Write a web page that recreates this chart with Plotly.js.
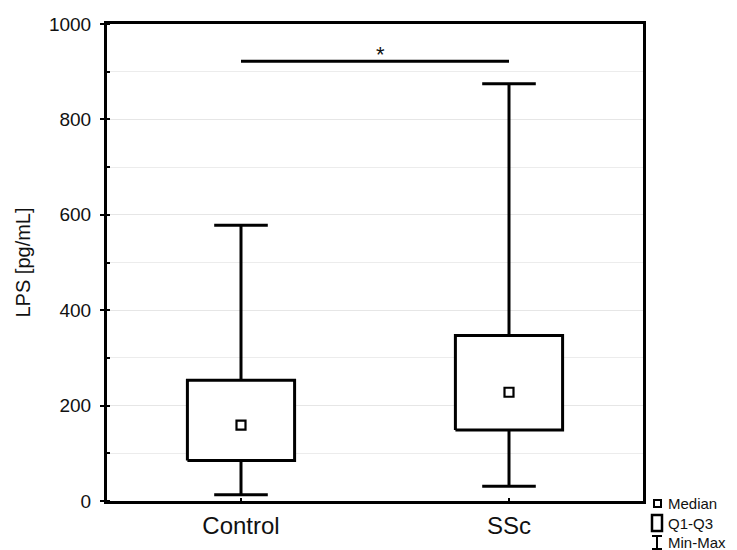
<!DOCTYPE html>
<html>
<head>
<meta charset="utf-8">
<script src="https://cdn.plot.ly/plotly-3.0.1.min.js"></script>
<style>html,body{margin:0;padding:0;background:#fff;}#chart{width:737px;height:550px;}</style>
</head>
<body>
<div id="chart"></div>
<script>
// Data
const categories = ["Control", "SSc"];
const minVals    = [13, 31];
const q1Vals     = [85, 149];
const medianVals = [159, 228];
const q3Vals     = [253, 347];
const maxVals    = [578, 875];
const sigPair    = [0, 1];      // compared groups (indices)
const sigLevel   = [922, 922];  // y of significance bar
const sigLabel   = "*";
const yTickVals  = [0, 200, 400, 600, 800, 1000];
const legendLabels = ["Median", "Q1-Q3", "Min-Max"];

const boxHalf = 0.2, capHalf = 0.1;
const lineCol = "#000";
const traces = [];
categories.forEach((c, i) => {
  // whiskers
  traces.push({type: "scatter", mode: "lines", hoverinfo: "skip", showlegend: false,
    x: [i, i, null, i, i], y: [q3Vals[i], maxVals[i], null, q1Vals[i], minVals[i]],
    line: {color: lineCol, width: 3}});
  // caps
  traces.push({type: "scatter", mode: "lines", hoverinfo: "skip", showlegend: false,
    x: [i - capHalf, i + capHalf, null, i - capHalf, i + capHalf],
    y: [maxVals[i], maxVals[i], null, minVals[i], minVals[i]],
    line: {color: lineCol, width: 3}});
  // box Q1-Q3
  traces.push({type: "scatter", mode: "lines", hoverinfo: "skip", showlegend: false,
    x: [i - boxHalf, i + boxHalf, i + boxHalf, i - boxHalf, i - boxHalf],
    y: [q1Vals[i], q1Vals[i], q3Vals[i], q3Vals[i], q1Vals[i]],
    fill: "toself", fillcolor: "#fff",
    line: {color: lineCol, width: 3}});
});
// medians
traces.push({type: "scatter", mode: "markers", showlegend: false,
  x: categories.map((c, i) => i), y: medianVals,
  marker: {symbol: "square", size: 9, color: "#fff", line: {color: lineCol, width: 2.2}}});
// significance bar
traces.push({type: "scatter", mode: "lines", hoverinfo: "skip", showlegend: false,
  x: sigPair, y: sigLevel, line: {color: lineCol, width: 3}});

const font = "Arial, 'Liberation Sans', sans-serif";
const px = v => (v - 107) / 536;   // pixel -> paper x
const py = v => (501 - v) / 477;   // pixel -> paper y
const layout = {
  width: 737, height: 550,
  margin: {l: 107, r: 94, t: 24, b: 49},
  paper_bgcolor: "#fff", plot_bgcolor: "#fff",
  showlegend: false,
  font: {family: font, color: "#111"},
  xaxis: {
    range: [-0.5, 1.5], tickvals: categories.map((c, i) => i), ticktext: categories,
    showgrid: false, zeroline: false,
    showline: true, mirror: true, linecolor: "#000", linewidth: 3,
    ticks: "inside", ticklen: 3, tickcolor: "#000", tickwidth: 2,
    tickfont: {size: 24, family: font, color: "#111"},
    ticklabelstandoff: 1
  },
  yaxis: {
    range: [0, 1000], tickvals: yTickVals, ticktext: yTickVals.map(String),
    showgrid: true, gridcolor: "#e6e6e6", gridwidth: 1, zeroline: false,
    showline: true, mirror: true, linecolor: "#000", linewidth: 3,
    ticks: "outside", ticklen: 4, tickcolor: "#000", tickwidth: 2,
    tickfont: {size: 19, family: font, color: "#111"},
    ticklabelstandoff: 5,
    minor: {dtick: 100, showgrid: true, gridcolor: "#ececec", gridwidth: 1, ticks: "inside", ticklen: 3, tickcolor: "#000", tickwidth: 2},
    title: {text: "LPS [pg/mL]", font: {size: 20, family: font, color: "#111"}, standoff: 13}
  },
  annotations: [
    {xref: "x", yref: "y", x: 0.52, y: sigLevel[0], text: sigLabel, showarrow: false,
     yanchor: "bottom", yshift: -8, font: {size: 22, family: font, color: "#111"}},
    {xref: "paper", yref: "paper", x: px(667), y: py(523), text: legendLabels.join("<br>"),
     showarrow: false, align: "left", borderpad: 0,
     xanchor: "left", yanchor: "middle", font: {size: 15, family: font, color: "#111"}}
  ],
  shapes: [
    // legend icons (paper coordinates)
    {type: "rect", xref: "paper", yref: "paper", x0: px(654), x1: px(661),
     y0: py(507), y1: py(500), line: {color: "#000", width: 2}, fillcolor: "#fff"},
    {type: "rect", xref: "paper", yref: "paper", x0: px(652), x1: px(662),
     y0: py(531), y1: py(515), line: {color: "#000", width: 2.5}, fillcolor: "#fff"},
    {type: "line", xref: "paper", yref: "paper", x0: px(657), x1: px(657),
     y0: py(549), y1: py(536), line: {color: "#000", width: 2}},
    {type: "line", xref: "paper", yref: "paper", x0: px(652), x1: px(662),
     y0: py(536), y1: py(536), line: {color: "#000", width: 2}},
    {type: "line", xref: "paper", yref: "paper", x0: px(652), x1: px(662),
     y0: py(549), y1: py(549), line: {color: "#000", width: 2}}
  ]
};
Plotly.newPlot("chart", traces, layout, {displayModeBar: false, staticPlot: true});
</script>
</body>
</html>
